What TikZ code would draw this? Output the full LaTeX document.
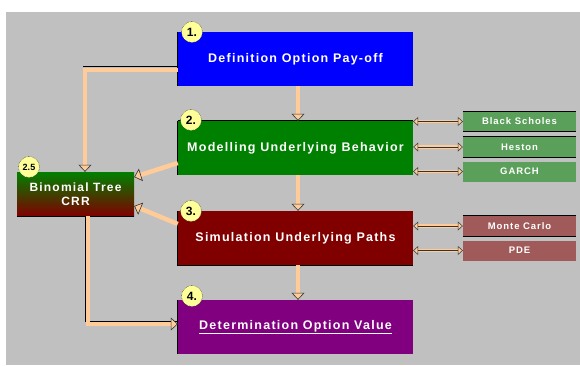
\documentclass[tikz,border=0pt]{standalone}
\usepackage{fontspec}
\setmainfont{Liberation Sans}
\newfontfamily\boxfont[LetterSpace=10]{Liberation Sans}
\usetikzlibrary{arrows.meta}

\definecolor{bg}{RGB}{192,192,192}
\definecolor{pipe}{RGB}{255,204,153}
\definecolor{stepblue}{RGB}{0,0,255}
\definecolor{stepgreen}{RGB}{0,128,0}
\definecolor{stepred}{RGB}{128,0,0}
\definecolor{steppurple}{RGB}{128,0,128}
\definecolor{sidegreen}{RGB}{90,160,90}
\definecolor{sidered}{RGB}{160,90,90}
\definecolor{badgefill}{RGB}{255,255,153}

\begin{document}
\begin{tikzpicture}[x=1pt,y=-1pt]
                        \tikzstyle{stepbox}=[rectangle, minimum width=235pt, minimum height=54pt,
                            text=white, font=\boxfont\fontsize{12.5}{14}\selectfont\bfseries, inner sep=0pt]
                        \tikzstyle{sidebox}=[rectangle, minimum width=113pt, minimum height=20pt,
                            text=white, font=\boxfont\fontsize{9.5}{10}\selectfont\bfseries, inner sep=0pt]
                        \tikzstyle{badge}=[circle, fill=badgefill, draw=black, densely dotted,
                            minimum size=21pt, inner sep=0pt, font=\fontsize{12}{12}\selectfont\bfseries]
                        \tikzstyle{flow}=[draw=pipe, line width=4.5pt,
                            -{Triangle[length=7pt,width=13pt,line width=0.6pt,fill=pipe,color=black!80]}]
                        \tikzstyle{link}=[draw=pipe, line width=3.5pt,
                            {Triangle[length=5pt,width=9pt,line width=0.5pt,fill=pipe,color=black!80]}-{Triangle[length=5pt,width=9pt,line width=0.5pt,fill=pipe,color=black!80]},
                            postaction={draw=black!80, line width=0.7pt, -, shorten <=5pt, shorten >=5pt}]
                        \tikzstyle{rim}=[draw=black, line width=1.2pt]

                        % background
                        \useasboundingbox (0,0) rectangle (580,365);
                        \fill[white] (0,0) rectangle (580,365);
                        \fill[bg] (6,12) rectangle (580,365);

                        % main steps
                        \node[stepbox, fill=stepblue] (define) at (295.5,59) {Definition Option Pay-off};
                        \node[stepbox, fill=stepgreen] (model) at (295.5,148) {Modelling Underlying Behavior};
                        \node[stepbox, fill=stepred] (simul) at (295.5,238) {Simulation Underlying Paths};
                        \node[stepbox, fill=steppurple] (value) at (295.5,327) {\underline{Determination Option Value}};
                        \node[rectangle, minimum width=117pt, minimum height=44pt, inner sep=0pt,
                            top color=stepgreen, bottom color=stepred, text=white, align=center,
                            font=\boxfont\fontsize{12}{13.5}\selectfont\bfseries] (binom) at (75.5,194) {Binomial Tree\\CRR};
                        \draw[rim] (define.north west) -- (define.south west);
                        \draw[rim] (model.north west) -- (model.north east);
                        \draw[rim] (model.north west) -- (model.south west);
                        \draw[rim] (simul.north west) -- (simul.south west) -- (simul.south east);
                        \draw[rim] (value.north west) -- (value.south west);
                        \draw[rim] (binom.south west) -- (binom.south east);

                        % side models
                        \node[sidebox, fill=sidegreen] (bs) at (519.5,121.5) {Black Scholes};
                        \node[sidebox, fill=sidegreen] (heston) at (519.5,147) {Heston};
                        \node[sidebox, fill=sidegreen] (garch) at (519.5,171.5) {GARCH};
                        \node[sidebox, fill=sidered] (mc) at (519.5,226) {Monte Carlo};
                        \node[sidebox, fill=sidered] (pde) at (519.5,250.5) {PDE};
                        \foreach \s in {bs,heston,mc}
                            \draw[rim] (\s.north west) -- (\s.north east) (\s.south west) -- (\s.south east);

                        % connectors
                        \coordinate (c1) at (85,70);
                        \coordinate (c2) at (88,324);
                        \draw[black, line width=1pt] (define.west |- 0,66.5) -- (83,66.5);
                        \draw[flow] (define.west |- c1) -- (c1) -- (binom.north -| c1);
                        \draw[black, line width=1pt] (binom.south -| 85.5,0) -- (85.5,321) -- (value.west |- 0,321);
                        \draw[flow] (binom.south -| c2) -- (c2) -- (value.west |- c2);
                        \draw[flow] (define.south -| 298,0) -- (model.north -| 298,0);
                        \draw[flow] (model.south -| 298,0) -- (simul.north -| 298,0);
                        \draw[flow] (simul.south -| 298,0) -- (value.north -| 298,0);
                        \draw[flow] (model.west |- 0,163) -- (binom.east |- 0,177);
                        \draw[flow] (simul.west |- 0,224) -- (binom.east |- 0,206);
                        \draw[link] (model.east |- bs) -- (bs.west);
                        \draw[link] (model.east |- heston) -- (heston.west);
                        \draw[link] (model.east |- garch) -- (garch.west);
                        \draw[link] (simul.east |- mc) -- (mc.west);
                        \draw[link] (simul.east |- pde) -- (pde.west);

                        % badges
                        \node[badge] (n1) at (192,32) {1.};
                        \node[badge] (n2) at (191,120) {2.};
                        \node[badge] (n3) at (191,211) {3.};
                        \node[badge] (n4) at (192,296) {4.};
                        \node[badge] (n25) at (29,167) {\fontsize{9}{9}\selectfont 2.5};
\end{tikzpicture}
\end{document}
